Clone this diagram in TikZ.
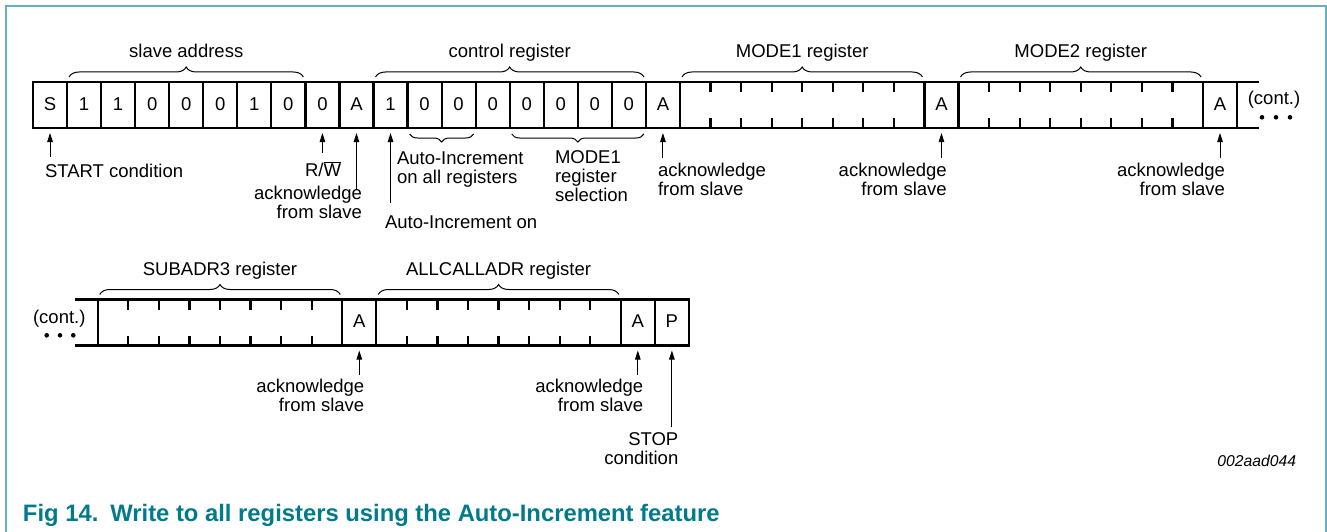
\documentclass[tikz,border=0pt]{standalone}
\usepackage{fontspec}
\setmainfont{Liberation Sans}
\usetikzlibrary{arrows.meta,decorations.pathreplacing,calc}
\definecolor{frameteal}{RGB}{107,174,192}
\definecolor{capteal}{RGB}{0,122,140}
\newcommand\lblfont{\fontsize{18.5}{19}\selectfont}
\begin{document}
\begin{tikzpicture}[x=1pt,y=1pt,
  every node/.style={inner sep=0pt, outer sep=0pt, font=\lblfont},
  cell/.style={draw, line width=2.2pt, minimum width=34.05pt, minimum height=46pt, text height=13.3pt, text depth=3pt},
  reg/.style={draw, line width=2.2pt, minimum width=244.5pt, minimum height=46pt},
  tick/.style={line width=2.2pt},
  bline/.style={line width=2.2pt},
  brc/.style={decorate, decoration={brace, amplitude=10pt}, line width=1pt},
  brs/.style={decorate, decoration={brace, amplitude=8pt}, line width=1pt},
  arr/.style={line width=1pt, -{Triangle[length=9pt,width=5.5pt]}, shorten >=5pt}]
\useasboundingbox (0,0) rectangle (1327,-532);
% frame
\draw[frameteal, line width=2pt] (5.5,-532) -- (5.5,-6) -- (1325.5,-6) -- (1325.5,-532);

% ---------- row 1 ----------
\foreach \t [count=\i from 0] in {S,1,1,0,0,0,1,0,0,A,1,0,0,0,0,0,0,0,A}
  \node[cell] (c\i) at ({33+34.05*(\i+0.5)},-105) {\t};
\node[reg] (m1) at (802.2,-105) {};
\node[cell] (a1) at (941.475,-105) {A};
\node[reg] (m2) at (1080.75,-105) {};
\node[cell] (a2) at (1220.0,-105) {A};
\draw[bline] (a2.north east) -- ++(22,0);
\draw[bline] (a2.south east) -- ++(22,0);
\node[anchor=base] (cont1) at (1274,-104.5) {(cont.)};
\foreach \x in {1262,1276,1290} \fill (\x,-117.3) circle (2.3);

% ---------- row 2 ----------
\node[reg] (s3) at (220,-322.5) {};
\node[cell] (b1) at (359.275,-322.5) {A};
\node[reg] (ac) at (498.55,-322.5) {};
\node[cell] (b2) at (637.825,-322.5) {A};
\node[cell] (pp) at (671.875,-322.5) {P};
\draw[bline] (s3.north west) -- ++(-22.5,0);
\draw[bline] (s3.south west) -- ++(-22.5,0);
\node[anchor=base] (cont2) at (59.3,-323) {(cont.)};
\foreach \x in {46.7,60,73.3} \fill (\x,-335.3) circle (2.3);

% ticks
\foreach \r in {m1,m2,s3,ac}
  \foreach \k in {1,...,7} {
    \draw[tick] ($(\r.north west)!\k/8!(\r.north east)$) -- ++(0,-10);
    \draw[tick] ($(\r.south west)!\k/8!(\r.south east)$) -- ++(0,10);
  }

% ---------- braces above ----------
\draw[brc] ([xshift=2pt,yshift=5pt]c1.north west) -- node[anchor=base, yshift=19pt] (tSA) {slave address} ([xshift=-2pt,yshift=5pt]c7.north east);
\draw[brc] ([xshift=2pt,yshift=5pt]c10.north west) -- node[anchor=base, yshift=19pt] (tCR) {control register} ([xshift=-2pt,yshift=5pt]c17.north east);
\draw[brc] ([xshift=2pt,yshift=5pt]m1.north west) -- node[anchor=base, yshift=19pt] (tM1) {MODE1 register} ([xshift=-2pt,yshift=5pt]m1.north east);
\draw[brc] ([xshift=2pt,yshift=5pt]m2.north west) -- node[anchor=base, yshift=19pt] (tM2) {MODE2 register} ([xshift=-2pt,yshift=5pt]m2.north east);
\draw[brc] ([xshift=2pt,yshift=5pt]s3.north west) -- node[anchor=base, yshift=19pt] (tS3) {SUBADR3 register} ([xshift=-2pt,yshift=5pt]s3.north east);
\draw[brc] ([xshift=2pt,yshift=5pt]ac.north west) -- node[anchor=base, yshift=19pt] (tAC) {ALLCALLADR register} ([xshift=-2pt,yshift=5pt]ac.north east);

% ---------- braces below ----------
\draw[brs] ([xshift=-2pt,yshift=-6pt]c12.south east) -- ([xshift=2pt,yshift=-6pt]c11.south west);
\draw[brs] ([xshift=-2pt,yshift=-6pt]c17.south east) -- ([xshift=2pt,yshift=-6pt]c14.south west);

% ---------- labels (base = baseline of last line) ----------
\node[anchor=base west] (lStart) at (45,-177) {START condition};
\node[anchor=base] (lRW) at (323,-176) {R/$\overline{\mbox{W}}$};
\node[anchor=base east, align=right] (lAck1) at (362,-218) {acknowledge\\from slave};
\node[anchor=base west, align=left] (lAI) at (397,-183) {Auto-Increment\\on all registers};
\node[anchor=base west, align=left] (lM1) at (555,-201.5) {MODE1\\register\\selection};
\node[anchor=base west] (lAIon) at (385,-228) {Auto-Increment on};
\node[anchor=base west, align=left] (lAck2) at (658,-195.5) {acknowledge\\from slave};
\node[anchor=base east, align=right] (lAck3) at (946.7,-195.5) {acknowledge\\from slave};
\node[anchor=base east, align=right] (lAck4) at (1225,-195.5) {acknowledge\\from slave};
\node[anchor=base east, align=right] (lAck5) at (364.3,-411) {acknowledge\\from slave};
\node[anchor=base east, align=right] (lAck6) at (643.3,-411) {acknowledge\\from slave};
\node[anchor=base east, align=right] (lStop) at (678.3,-464.7) {STOP\\condition};
\node[anchor=base east, font=\fontsize{15.7}{17}\selectfont\itshape] (fid) at (1296,-466) {002aad044};
\node[anchor=base west, text=capteal, font=\fontsize{23.8}{26}\selectfont\bfseries] (cap) at (23,-521) {Fig 14.\hspace{12pt}Write to all registers using the Auto-Increment feature};

% ---------- arrows ----------
\draw[arr] ([yshift=-52pt]c0.center) -- (c0);
\draw[arr] ([yshift=-48pt]c8.center) -- (c8);
\draw[arr] ([yshift=-85pt]c9.center) -- (c9);
\draw[arr] ([yshift=-98pt]c10.center) -- (c10);
\draw[arr] ([yshift=-53pt]c18.center) -- (c18);
\draw[arr] ([yshift=-53pt]a1.center) -- (a1);
\draw[arr] ([yshift=-53pt]a2.center) -- (a2);
\draw[arr] ([yshift=-52.5pt]b1.center) -- (b1);
\draw[arr] ([yshift=-52.5pt]b2.center) -- (b2);
\draw[arr] ([yshift=-104.5pt]pp.center) -- (pp);
\end{tikzpicture}
\end{document}
